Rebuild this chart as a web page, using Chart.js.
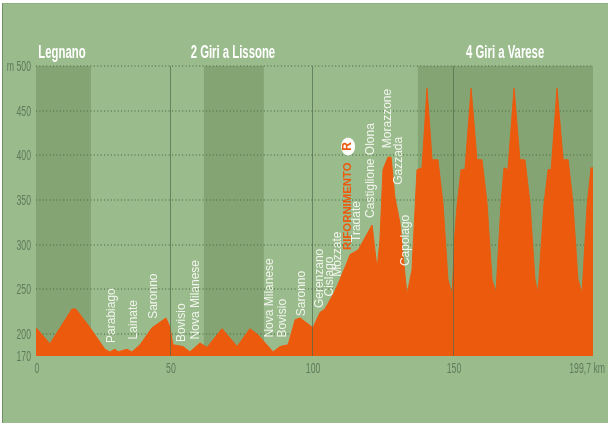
<!DOCTYPE html>
<html>
<head>
<meta charset="utf-8">
<title>Altimetria</title>
<script src="https://cdn.jsdelivr.net/npm/chart.js@4"></script>
<style>
  html, body { margin: 0; padding: 0; background: #fff; }
  #wrap { position: relative; width: 610px; height: 431px; overflow: hidden; }
  #panel { position: absolute; left: 2px; top: 3px; width: 606px; height: 420px; background: #9abb8c; border-left: 1px solid #6f8d66; border-top: 1px solid #8fb081; box-sizing: border-box; }
  canvas { position: absolute; left: 0; top: 0; filter: blur(0.45px); }
</style>
</head>
<body>
<div id="wrap">
  <div id="panel"></div>
  <canvas id="profile" width="610" height="431"></canvas>
</div>
<script>
// profile: km and metres
const km = [0, 5, 12.9, 14.3, 19.4, 24.7, 26.5, 28.3, 29.4, 32.6, 34.4, 37.3, 41.6, 46.6, 48, 49.1, 52.7, 55.2, 58.8, 61.3,
  66.7, 72.1, 76.7, 79.6, 85, 87.5, 90.4, 92.9, 94.7, 99.3, 101.8, 103.6, 106.5, 107.9, 111.5, 112.6, 115.5, 120.5, 122.3, 123.3,
  124.4, 126.2, 127.3, 128.7, 130.5, 133, 134.8, 136.6, 138.4, 140.2, 142, 144.1, 145.9, 147.7, 149.2, 150.2, 151, 152.4, 153.8, 156,
  158.1, 159.9, 161.7, 163.5, 164.9, 166.7, 167.8, 169.2, 171.4, 173.5, 175.3, 177.1, 178.9, 180, 182.1, 183.6, 184.7, 186.8, 189, 190.8,
  192.5, 194.3, 195.8, 197.6, 199, 199.7];
const metres = [207, 189, 228, 228, 207, 183, 180, 183, 180, 183, 180, 188, 207, 218, 208, 188, 186, 180, 190, 185,
  206, 186, 206, 199, 180, 186, 188, 216, 218, 207, 224, 228, 244, 253, 280, 289, 294, 322, 273, 305,
  384, 398, 398, 353, 324, 244, 272, 384, 386, 475, 395, 395, 347, 261, 244, 313, 345, 384, 384, 475,
  395, 395, 347, 261, 246, 345, 386, 384, 475, 395, 395, 347, 261, 246, 345, 384, 384, 475, 395, 395,
  347, 261, 246, 345, 386, 386];

// axis ticks: the printed scale is not quite even, so each label has its own position
const xTicks = [0, 48, 99, 149.5, 199.7];
const xTickLabels = ['0', '50', '100', '150', '199,7 km'];
const yTicks = [175.4, 200, 250, 300, 350, 400, 450, 500];
const yTickLabels = ['170', '200', '250', '300', '350', '400', '450', 'm 500'];

// darker stretches and km dividers
const bandStart = [0, 60.2, 136.9];
const bandEnd = [19.7, 81.7, 199.7];
const dividers = [48, 99, 149.5];

// section titles
const sections = ['Legnano', '2 Giri a Lissone', '4 Giri a Varese'];
const sectionKm = [9.3, 70.6, 168.2];

// towns along the route, text starts at wayM and runs upward
const wayNames = ['Parabiago', 'Lainate', 'Saronno', 'Bovisio', 'Nova Milanese', 'Nova Milanese', 'Bovisio', 'Saronno', 'Gerenzano',
  'Cislago', 'Mozzate', 'Tradate', 'Castiglione Olona', 'Morazzone', 'Gazzada', 'Capolago'];
const wayKm = [27.3, 35.1, 42.3, 52.3, 57.4, 83.9, 88.6, 95.4, 101.6, 105.4, 108.2, 115.1, 120.1, 126.2, 130.2, 132.7];
const wayM = [190, 194, 217, 191, 194, 196, 196, 220, 229, 242, 264, 303, 330, 408, 367, 276];

const feedKm = 111.9;
const feedM = 294;
const feedText = 'RIFORNIMENTO';
const feedMark = 'R';
const feedMarkM = 410;

const ORANGE = '#ec5a0d';
const SANS = '"Liberation Sans", sans-serif';
const AXIS_TEXT = '#5f7b5c';

// Liberation Sans squeezed sideways, the installed fonts have no narrow cut
function narrowText(ctx, text, px, py, squeeze, align) {
  ctx.save();
  ctx.translate(px, py);
  ctx.scale(squeeze, 1);
  ctx.textAlign = align;
  ctx.fillText(text, 0, 0);
  ctx.restore();
}

const decorPlugin = {
  id: 'decor',
  beforeDraw(chart) {
    const { ctx, chartArea: a, scales: { x } } = chart;
    ctx.save();
    ctx.fillStyle = '#84a474';
    bandStart.forEach((s, i) => {
      ctx.fillRect(x.getPixelForValue(s), a.top, x.getPixelForValue(bandEnd[i]) - x.getPixelForValue(s), a.bottom - a.top);
    });
    ctx.restore();
  },
  afterDatasetsDraw(chart) {
    const { ctx, chartArea: a, scales: { x, y } } = chart;
    ctx.save();
    // km dividers show through the orange
    ctx.strokeStyle = 'rgba(80,105,75,0.7)';
    ctx.lineWidth = 1;
    dividers.forEach(d => {
      const px = Math.round(x.getPixelForValue(d)) + 0.5;
      ctx.beginPath();
      ctx.moveTo(px, a.top);
      ctx.lineTo(px, a.bottom);
      ctx.stroke();
    });

    ctx.textBaseline = 'middle';

    // axis labels
    ctx.fillStyle = AXIS_TEXT;
    ctx.font = '15px ' + SANS;
    yTicks.forEach((v, i) => narrowText(ctx, yTickLabels[i], 31, y.getPixelForValue(v) + 1, 0.58, 'right'));
    xTicks.forEach((v, i) => {
      const last = i === xTicks.length - 1;
      narrowText(ctx, xTickLabels[i], x.getPixelForValue(v) + (last ? 12 : 1), 369, 0.58, last ? 'right' : 'center');
    });

    ctx.fillStyle = '#fff';
    ctx.font = 'bold 18px ' + SANS;
    sections.forEach((s, i) => narrowText(ctx, s, x.getPixelForValue(sectionKm[i]), 53, 0.63, 'center'));

    // rotated town names
    ctx.textAlign = 'left';
    ctx.font = '12px ' + SANS;
    ctx.fillStyle = '#f2f5ee';
    wayNames.forEach((n, i) => {
      ctx.save();
      ctx.translate(x.getPixelForValue(wayKm[i]), y.getPixelForValue(wayM[i]));
      ctx.rotate(-Math.PI / 2);
      ctx.fillText(n, 0, 0);
      ctx.restore();
    });

    ctx.save();
    ctx.translate(x.getPixelForValue(feedKm), y.getPixelForValue(feedM));
    ctx.rotate(-Math.PI / 2);
    ctx.font = 'bold 11.4px ' + SANS;
    ctx.fillStyle = ORANGE;
    ctx.fillText(feedText, 0, 0);
    ctx.restore();

    // feed zone badge
    const bx = x.getPixelForValue(feedKm);
    const by = y.getPixelForValue(feedMarkM);
    ctx.beginPath();
    ctx.ellipse(bx, by, 7, 9, 0, 0, Math.PI * 2);
    ctx.fillStyle = '#fff';
    ctx.fill();
    ctx.save();
    ctx.translate(bx, by);
    ctx.rotate(-Math.PI / 2);
    ctx.textAlign = 'center';
    ctx.font = 'bold 12px ' + SANS;
    ctx.fillStyle = ORANGE;
    ctx.fillText(feedMark, 0, 0);
    ctx.restore();
    ctx.restore();
  }
};

new Chart(document.getElementById('profile').getContext('2d'), {
  type: 'line',
  data: {
    datasets: [{
      data: km.map((k, i) => ({ x: k, y: metres[i] })),
      fill: 'start',
      backgroundColor: ORANGE,
      borderColor: ORANGE,
      borderWidth: 1,
      pointRadius: 0,
      tension: 0
    }]
  },
  options: {
    responsive: false,
    animation: false,
    layout: { padding: { top: 66, right: 17, left: 0, bottom: 0 } },
    plugins: { legend: { display: false }, tooltip: { enabled: false } },
    scales: {
      x: {
        type: 'linear',
        min: 0,
        max: 199.7,
        afterBuildTicks: s => { s.ticks = xTicks.map(v => ({ value: v })); },
        afterFit: s => { s.height = 75; s.paddingLeft = 0; s.paddingRight = 0; },
        grid: { display: false },
        border: { display: false },
        ticks: { display: false }
      },
      y: {
        type: 'linear',
        min: 175.4,
        max: 500,
        afterBuildTicks: s => { s.ticks = yTicks.map(v => ({ value: v })); },
        afterFit: s => { s.width = 36; },
        grid: {
          drawTicks: false,
          lineWidth: 2,
          color: c => c.tick && c.tick.value > 176 ? 'rgba(82,112,72,0.6)' : 'rgba(0,0,0,0)'
        },
        border: { display: false, dash: [1, 2.4] },
        ticks: { display: false }
      }
    }
  },
  plugins: [decorPlugin]
});
</script>
</body>
</html>
